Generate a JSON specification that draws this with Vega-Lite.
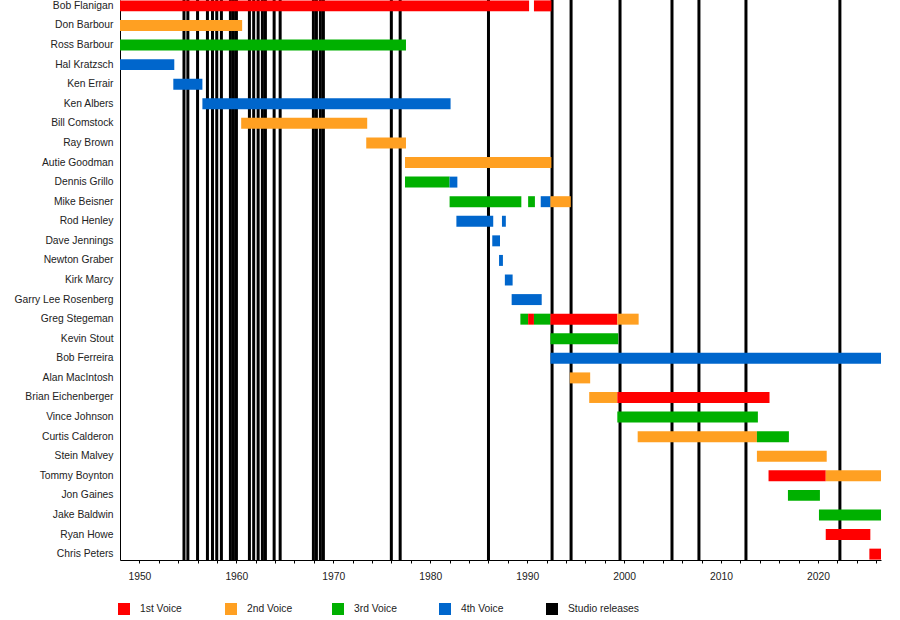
{
  "$schema": "https://vega.github.io/schema/vega-lite/v6.json",
  "width": 761,
  "height": 560,
  "autosize": "none",
  "padding": {"left": 120, "top": 0, "right": 19, "bottom": 60},
  "background": "white",
  "datasets": {
    "segments": [
      {"member": "Bob Flanigan", "voice": "1st Voice", "start": 1948.0, "end": 1990.2},
      {"member": "Bob Flanigan", "voice": "1st Voice", "start": 1990.7, "end": 1992.5},
      {"member": "Don Barbour", "voice": "2nd Voice", "start": 1948.0, "end": 1960.6},
      {"member": "Ross Barbour", "voice": "3rd Voice", "start": 1948.0, "end": 1977.5},
      {"member": "Hal Kratzsch", "voice": "4th Voice", "start": 1948.0, "end": 1953.6},
      {"member": "Ken Errair", "voice": "4th Voice", "start": 1953.5, "end": 1956.5},
      {"member": "Ken Albers", "voice": "4th Voice", "start": 1956.5, "end": 1982.1},
      {"member": "Bill Comstock", "voice": "2nd Voice", "start": 1960.5, "end": 1973.5},
      {"member": "Ray Brown", "voice": "2nd Voice", "start": 1973.4, "end": 1977.5},
      {"member": "Autie Goodman", "voice": "2nd Voice", "start": 1977.4, "end": 1992.5},
      {"member": "Dennis Grillo", "voice": "3rd Voice", "start": 1977.4, "end": 1982.0},
      {"member": "Dennis Grillo", "voice": "4th Voice", "start": 1982.0, "end": 1982.8},
      {"member": "Mike Beisner", "voice": "3rd Voice", "start": 1982.0, "end": 1989.4},
      {"member": "Mike Beisner", "voice": "3rd Voice", "start": 1990.1, "end": 1990.8},
      {"member": "Mike Beisner", "voice": "4th Voice", "start": 1991.4, "end": 1992.4},
      {"member": "Mike Beisner", "voice": "2nd Voice", "start": 1992.4, "end": 1994.5},
      {"member": "Rod Henley", "voice": "4th Voice", "start": 1982.7, "end": 1986.5},
      {"member": "Rod Henley", "voice": "4th Voice", "start": 1987.4, "end": 1987.8},
      {"member": "Dave Jennings", "voice": "4th Voice", "start": 1986.4, "end": 1987.2},
      {"member": "Newton Graber", "voice": "4th Voice", "start": 1987.1, "end": 1987.5},
      {"member": "Kirk Marcy", "voice": "4th Voice", "start": 1987.7, "end": 1988.5},
      {"member": "Garry Lee Rosenberg", "voice": "4th Voice", "start": 1988.4, "end": 1991.5},
      {"member": "Greg Stegeman", "voice": "3rd Voice", "start": 1989.3, "end": 1990.1},
      {"member": "Greg Stegeman", "voice": "1st Voice", "start": 1990.1, "end": 1990.7},
      {"member": "Greg Stegeman", "voice": "3rd Voice", "start": 1990.7, "end": 1992.4},
      {"member": "Greg Stegeman", "voice": "1st Voice", "start": 1992.4, "end": 1999.3},
      {"member": "Greg Stegeman", "voice": "2nd Voice", "start": 1999.3, "end": 2001.5},
      {"member": "Kevin Stout", "voice": "3rd Voice", "start": 1992.4, "end": 1999.4},
      {"member": "Bob Ferreira", "voice": "4th Voice", "start": 1992.4, "end": 2026.5},
      {"member": "Alan MacIntosh", "voice": "2nd Voice", "start": 1994.4, "end": 1996.5},
      {"member": "Brian Eichenberger", "voice": "2nd Voice", "start": 1996.4, "end": 1999.3},
      {"member": "Brian Eichenberger", "voice": "1st Voice", "start": 1999.3, "end": 2015.0},
      {"member": "Vince Johnson", "voice": "3rd Voice", "start": 1999.3, "end": 2013.8},
      {"member": "Curtis Calderon", "voice": "2nd Voice", "start": 2001.4, "end": 2013.7},
      {"member": "Curtis Calderon", "voice": "3rd Voice", "start": 2013.7, "end": 2017.0},
      {"member": "Stein Malvey", "voice": "2nd Voice", "start": 2013.7, "end": 2020.9},
      {"member": "Tommy Boynton", "voice": "1st Voice", "start": 2014.9, "end": 2020.8},
      {"member": "Tommy Boynton", "voice": "2nd Voice", "start": 2020.8, "end": 2026.5},
      {"member": "Jon Gaines", "voice": "3rd Voice", "start": 2016.9, "end": 2020.2},
      {"member": "Jake Baldwin", "voice": "3rd Voice", "start": 2020.1, "end": 2026.5},
      {"member": "Ryan Howe", "voice": "1st Voice", "start": 2020.8, "end": 2025.4},
      {"member": "Chris Peters", "voice": "1st Voice", "start": 2025.3, "end": 2026.5}
    ],
    "releases": [
      {"voice": "Studio releases", "year": 1954.6},
      {"voice": "Studio releases", "year": 1955.0},
      {"voice": "Studio releases", "year": 1956.0},
      {"voice": "Studio releases", "year": 1957.02},
      {"voice": "Studio releases", "year": 1957.54},
      {"voice": "Studio releases", "year": 1957.98},
      {"voice": "Studio releases", "year": 1958.46},
      {"voice": "Studio releases", "year": 1959.39},
      {"voice": "Studio releases", "year": 1959.7},
      {"voice": "Studio releases", "year": 1960.01},
      {"voice": "Studio releases", "year": 1961.35},
      {"voice": "Studio releases", "year": 1961.79},
      {"voice": "Studio releases", "year": 1962.25},
      {"voice": "Studio releases", "year": 1962.69},
      {"voice": "Studio releases", "year": 1963.0},
      {"voice": "Studio releases", "year": 1963.9},
      {"voice": "Studio releases", "year": 1964.52},
      {"voice": "Studio releases", "year": 1967.95},
      {"voice": "Studio releases", "year": 1968.26},
      {"voice": "Studio releases", "year": 1968.67},
      {"voice": "Studio releases", "year": 1968.98},
      {"voice": "Studio releases", "year": 1975.99},
      {"voice": "Studio releases", "year": 1976.9},
      {"voice": "Studio releases", "year": 1986.01},
      {"voice": "Studio releases", "year": 1992.57},
      {"voice": "Studio releases", "year": 1994.53},
      {"voice": "Studio releases", "year": 1999.58},
      {"voice": "Studio releases", "year": 2004.94},
      {"voice": "Studio releases", "year": 2007.72},
      {"voice": "Studio releases", "year": 2012.57},
      {"voice": "Studio releases", "year": 2022.26}
    ]
  },
  "layer": [
    {
      "data": {"name": "releases"},
      "mark": {"type": "rule", "strokeWidth": 3},
      "encoding": {
        "x": {
          "field": "year",
          "type": "quantitative",
          "title": null,
          "scale": {"domain": [1948, 2026.5], "nice": false, "zero": false},
          "axis": {
            "values": [1950, 1952, 1954, 1956, 1958, 1960, 1962, 1964, 1966, 1968, 1970, 1972, 1974, 1976, 1978, 1980, 1982, 1984, 1986, 1988, 1990, 1992, 1994, 1996, 1998, 2000, 2002, 2004, 2006, 2008, 2010, 2012, 2014, 2016, 2018, 2020, 2022, 2024, 2026],
            "format": "d",
            "labelOpacity": {"condition": {"test": "datum.value % 10 == 0", "value": 1}, "value": 0},
            "labelOverlap": false,
            "tickSize": 3,
            "labelPadding": 8,
            "labelFlush": false
          }
        },
        "color": {"field": "voice", "type": "nominal"}
      }
    },
    {
      "data": {"name": "segments"},
      "mark": {"type": "bar"},
      "encoding": {
        "x": {
          "field": "start",
          "type": "quantitative",
          "title": null,
          "scale": {"domain": [1948, 2026.5], "nice": false, "zero": false},
          "axis": {
            "values": [1950, 1952, 1954, 1956, 1958, 1960, 1962, 1964, 1966, 1968, 1970, 1972, 1974, 1976, 1978, 1980, 1982, 1984, 1986, 1988, 1990, 1992, 1994, 1996, 1998, 2000, 2002, 2004, 2006, 2008, 2010, 2012, 2014, 2016, 2018, 2020, 2022, 2024, 2026],
            "format": "d",
            "labelOpacity": {"condition": {"test": "datum.value % 10 == 0", "value": 1}, "value": 0},
            "labelOverlap": false,
            "tickSize": 3,
            "labelPadding": 8,
            "labelFlush": false
          }
        },
        "x2": {"field": "end"},
        "y": {
          "field": "member",
          "type": "nominal",
          "title": null,
          "sort": ["Bob Flanigan", "Don Barbour", "Ross Barbour", "Hal Kratzsch", "Ken Errair", "Ken Albers", "Bill Comstock", "Ray Brown", "Autie Goodman", "Dennis Grillo", "Mike Beisner", "Rod Henley", "Dave Jennings", "Newton Graber", "Kirk Marcy", "Garry Lee Rosenberg", "Greg Stegeman", "Kevin Stout", "Bob Ferreira", "Alan MacIntosh", "Brian Eichenberger", "Vince Johnson", "Curtis Calderon", "Stein Malvey", "Tommy Boynton", "Jon Gaines", "Jake Baldwin", "Ryan Howe", "Chris Peters"],
          "scale": {"paddingInner": 0.44, "paddingOuter": 0.02},
          "axis": {"ticks": false, "labelPadding": 7}
        },
        "color": {
          "field": "voice",
          "type": "nominal",
          "scale": {
            "domain": ["1st Voice", "2nd Voice", "3rd Voice", "4th Voice", "Studio releases"],
            "range": ["#ff0000", "#ffa022", "#00b000", "#0066cc", "#000000"]
          },
          "legend": {
            "title": null,
            "orient": "none",
            "legendX": -2,
            "legendY": 603,
            "direction": "horizontal",
            "columns": 5,
            "gridAlign": "all",
            "columnPadding": 14,
            "symbolType": "square",
            "symbolSize": 144,
            "symbolStrokeWidth": 0,
            "symbolOpacity": 1,
            "labelOffset": 10
          }
        }
      }
    }
  ],
  "config": {
    "view": {"stroke": null},
    "font": "Liberation Sans",
    "axis": {
      "grid": false,
      "labelOverlap": false,
      "domainColor": "#000000",
      "tickColor": "#000000",
      "labelColor": "#222222",
      "labelFont": "Liberation Sans",
      "labelFontSize": 10.3
    },
    "axisQuantitative": {"labelOverlap": false},
    "legend": {
      "labelColor": "#222222",
      "labelFont": "Liberation Sans",
      "labelFontSize": 10.3
    }
  }
}
